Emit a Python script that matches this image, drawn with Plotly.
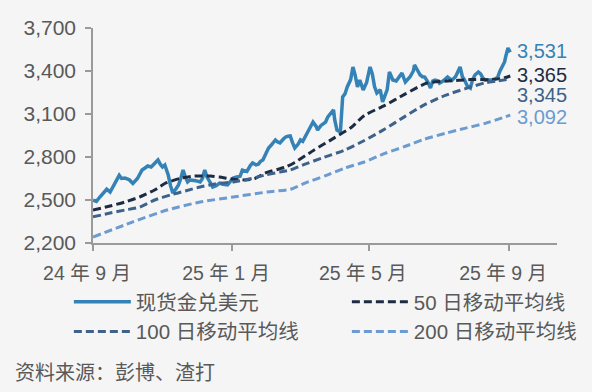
import plotly.graph_objects as go

# ---------------- data ----------------
price_dates = [
    "2024-09-01", "2024-09-04", "2024-09-07", "2024-09-11", "2024-09-13", "2024-09-16", "2024-09-19",
    "2024-09-21", "2024-09-24", "2024-09-26", "2024-09-29", "2024-10-02", "2024-10-03", "2024-10-06",
    "2024-10-10", "2024-10-12", "2024-10-14", "2024-10-16", "2024-10-19", "2024-10-22", "2024-10-24",
    "2024-10-26", "2024-10-28", "2024-10-30", "2024-11-01", "2024-11-03", "2024-11-06", "2024-11-08",
    "2024-11-10", "2024-11-13", "2024-11-15", "2024-11-17", "2024-11-19", "2024-11-21", "2024-11-23",
    "2024-11-25", "2024-11-28", "2024-11-30", "2024-12-04", "2024-12-06", "2024-12-08", "2024-12-10",
    "2024-12-13", "2024-12-15", "2024-12-18", "2024-12-21", "2024-12-24", "2024-12-28", "2024-12-30",
    "2025-01-02", "2025-01-05", "2025-01-08", "2025-01-10", "2025-01-14", "2025-01-17", "2025-01-19",
    "2025-01-22", "2025-01-24", "2025-01-26", "2025-01-28", "2025-01-31", "2025-02-02", "2025-02-04",
    "2025-02-08", "2025-02-10", "2025-02-12", "2025-02-15", "2025-02-17", "2025-02-19", "2025-02-21",
    "2025-02-23", "2025-02-25", "2025-02-28", "2025-03-02", "2025-03-04", "2025-03-08", "2025-03-10",
    "2025-03-13", "2025-03-16", "2025-03-17", "2025-03-20", "2025-03-24", "2025-03-26", "2025-03-29",
    "2025-03-31", "2025-04-01", "2025-04-03", "2025-04-06", "2025-04-08", "2025-04-10", "2025-04-12",
    "2025-04-15", "2025-04-17", "2025-04-19", "2025-04-21", "2025-04-23", "2025-04-26", "2025-04-29",
    "2025-04-30", "2025-05-02", "2025-05-04", "2025-05-06", "2025-05-08", "2025-05-11", "2025-05-13",
    "2025-05-15", "2025-05-17", "2025-05-19", "2025-05-22", "2025-05-25", "2025-05-27", "2025-05-30",
    "2025-06-02", "2025-06-04", "2025-06-06", "2025-06-09", "2025-06-10", "2025-06-13", "2025-06-15",
    "2025-06-17", "2025-06-19", "2025-06-22", "2025-06-24", "2025-06-26", "2025-06-28", "2025-07-01",
    "2025-07-02", "2025-07-05", "2025-07-09", "2025-07-11", "2025-07-13", "2025-07-16", "2025-07-18",
    "2025-07-20", "2025-07-22", "2025-07-24", "2025-07-26", "2025-07-29", "2025-07-31", "2025-08-02",
    "2025-08-05", "2025-08-07", "2025-08-09", "2025-08-11", "2025-08-14", "2025-08-15", "2025-08-17",
    "2025-08-20", "2025-08-22", "2025-08-24", "2025-08-26", "2025-08-28", "2025-08-29", "2025-08-30",
    "2025-08-31", "2025-09-02",
]
price_values = [
    2500, 2490, 2521, 2560, 2575, 2556, 2600,
    2640, 2672, 2650, 2653, 2645, 2640, 2615,
    2650, 2680, 2709, 2720, 2737, 2730, 2745,
    2760, 2779, 2750, 2730, 2744, 2674, 2600,
    2549, 2580, 2605, 2650, 2709, 2660, 2626,
    2640, 2640, 2635, 2626, 2650, 2709, 2660,
    2620, 2590, 2600, 2618, 2610, 2605, 2625,
    2653, 2660, 2665, 2709, 2700, 2740, 2758,
    2745, 2750, 2770, 2779, 2830, 2863, 2880,
    2919, 2905, 2898, 2925, 2940, 2945, 2947,
    2900, 2863, 2890, 2919, 2910, 2967, 3000,
    3044, 3010, 2988, 3020, 3044, 3080, 3110,
    3128, 3060, 2988, 2974, 3219, 3240, 3289,
    3340, 3428, 3370, 3289, 3337, 3268, 3320,
    3350, 3428, 3380, 3290, 3247, 3268, 3184,
    3230, 3268, 3393, 3337, 3330, 3350, 3386,
    3323, 3340, 3358, 3400, 3442, 3400, 3372,
    3360, 3358, 3320, 3281, 3330, 3337, 3330,
    3316, 3330, 3358, 3345, 3337, 3360, 3400,
    3428, 3360, 3337, 3300, 3281, 3340, 3372,
    3393, 3380, 3351, 3337, 3337, 3335, 3337,
    3345, 3358, 3400, 3430, 3463, 3500, 3533,
    3560, 3531,
]

ma50_dates = [
    "2024-09-01", "2024-09-16", "2024-09-29", "2024-10-12", "2024-10-25", "2024-11-03", "2024-11-16",
    "2024-11-29", "2024-12-13", "2024-12-21", "2025-01-02", "2025-01-13", "2025-01-21", "2025-01-30",
    "2025-02-17", "2025-02-25", "2025-03-14", "2025-04-01", "2025-04-16", "2025-04-27", "2025-05-15",
    "2025-06-02", "2025-06-21", "2025-07-09", "2025-07-29", "2025-08-15", "2025-08-27", "2025-09-02",
]
ma50_values = [
    2430, 2458, 2486, 2521, 2570, 2615, 2650,
    2667, 2667, 2660, 2645, 2640, 2650, 2688,
    2730, 2762, 2849, 2935, 3009, 3090, 3160,
    3240, 3316, 3330, 3340, 3340, 3350, 3365,
]

ma100_dates = [
    "2024-09-01", "2024-09-16", "2024-09-29", "2024-10-12", "2024-10-25", "2024-11-08", "2024-11-21",
    "2024-12-04", "2024-12-17", "2025-01-02", "2025-01-16", "2025-01-30", "2025-02-12", "2025-02-21",
    "2025-03-06", "2025-03-21", "2025-04-10", "2025-04-27", "2025-05-15", "2025-06-02", "2025-06-19",
    "2025-07-07", "2025-07-24", "2025-08-11", "2025-08-22", "2025-09-02",
]
ma100_values = [
    2382, 2409, 2430, 2451, 2500, 2535, 2563,
    2591, 2612, 2626, 2646, 2674, 2695, 2709,
    2750, 2793, 2849, 2915, 2995, 3085, 3165,
    3230, 3275, 3318, 3330, 3345,
]

ma200_dates = [
    "2024-09-01", "2024-10-06", "2024-11-05", "2024-12-04", "2025-01-02", "2025-02-01", "2025-02-21",
    "2025-03-06", "2025-03-24", "2025-04-10", "2025-04-27", "2025-05-15", "2025-06-02", "2025-06-19",
    "2025-07-07", "2025-07-24", "2025-08-11", "2025-09-02",
]
ma200_values = [
    2242, 2347, 2430, 2486, 2521, 2556, 2575,
    2618, 2670, 2723, 2765, 2825, 2875, 2925,
    2965, 3000, 3035, 3092,
]

series_names = ["现货金兑美元", "50 日移动平均线", "100 日移动平均线", "200 日移动平均线"]
end_labels = ["3,531", "3,365", "3,345", "3,092"]
end_label_y = [3540, 3372, 3230, 3079]

x_tick_vals = ["2024-09-01", "2025-01-01", "2025-05-01", "2025-09-01"]
x_tick_text = ["24 年 9 月", "25 年 1 月", "25 年 5 月", "25 年 9 月"]
y_tick_vals = [2200, 2500, 2800, 3100, 3400, 3700]

# ---------------- style ----------------
colors = ["#3583b6", "#1d2c42", "#3e6289", "#6b9bd0"]
FONT = "Liberation Sans, Arial, Noto Sans CJK SC, sans-serif"
GREY = "#595959"
BG = "#f5f5f5"

fig = go.Figure()
fig.add_trace(go.Scatter(x=price_dates, y=price_values, mode="lines", name=series_names[0],
                         line=dict(color=colors[0], width=3.5)))
fig.add_trace(go.Scatter(x=ma50_dates, y=ma50_values, mode="lines", name=series_names[1],
                         line=dict(color=colors[1], width=3, dash="8px,4px", shape="spline", smoothing=0.6)))
fig.add_trace(go.Scatter(x=ma100_dates, y=ma100_values, mode="lines", name=series_names[2],
                         line=dict(color=colors[2], width=3, dash="8px,4px", shape="spline", smoothing=0.6)))
fig.add_trace(go.Scatter(x=ma200_dates, y=ma200_values, mode="lines", name=series_names[3],
                         line=dict(color=colors[3], width=3, dash="8px,4px", shape="spline", smoothing=0.6)))

annotations = []
for txt, yv, c in zip(end_labels, end_label_y, colors):
    annotations.append(dict(x=price_dates[-1], y=yv, xref="x", yref="y", text=txt, showarrow=False,
                            xanchor="left", yanchor="middle", xshift=5,
                            font=dict(size=20, color=c, family=FONT)))
annotations.append(dict(x=-0.172, y=-0.605, xref="paper", yref="paper", text="资料来源：彭博、渣打",
                        showarrow=False, xanchor="left", yanchor="middle",
                        font=dict(size=20, color=GREY, family=FONT)))

fig.update_layout(
    width=592, height=392,
    margin=dict(l=93, r=35, t=28, b=149, autoexpand=False),
    paper_bgcolor=BG, plot_bgcolor=BG,
    font=dict(family=FONT, color=GREY, size=20),
    showlegend=True,
    legend=dict(orientation="h", x=-0.052, y=-0.181, xanchor="left", yanchor="top",
                entrywidth=206, itemwidth=57, tracegroupgap=0,
                font=dict(size=20.5, color=GREY, family=FONT), bgcolor="rgba(0,0,0,0)"),
    annotations=annotations,
    xaxis=dict(type="date", range=["2024-09-01", "2025-10-13"], tickmode="array",
               tickvals=x_tick_vals, ticktext=x_tick_text, showgrid=False, zeroline=False,
               showline=True, linecolor="#9a9a9a", linewidth=1.5, ticks="outside", ticklen=6,
               tickcolor="#9a9a9a", tickwidth=1.5, tickfont=dict(size=19.5, color=GREY),
               ticklabelshift=-6, ticklabelstandoff=6),
    yaxis=dict(range=[2200, 3700], tickmode="array", tickvals=y_tick_vals, tickformat=",",
               showgrid=False, zeroline=False, showline=True, linecolor="#9a9a9a", linewidth=1.5,
               ticks="outside", ticklen=6, tickcolor="#9a9a9a", tickwidth=1.5,
               tickfont=dict(size=21, color=GREY), ticklabelstandoff=5),
)

fig.write_html(
    "out.html",
    config={"displayModeBar": False},
    post_script="document.body.style.margin='0px';document.body.style.background='#f5f5f5';",
)
